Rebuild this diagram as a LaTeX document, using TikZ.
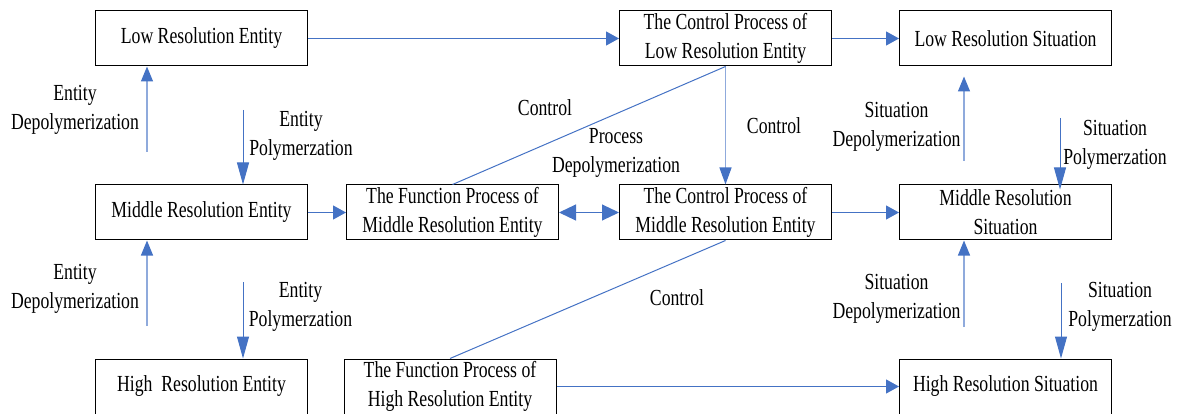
\documentclass[tikz,border=0pt]{standalone}
\usepackage{fontspec}
\setmainfont[FakeStretch=0.77]{Liberation Serif}
\usepackage{tikz}
\usetikzlibrary{arrows.meta,positioning,calc}

\definecolor{arrblue}{HTML}{4472C4}
\definecolor{stemblue}{HTML}{8FAADC}

\tikzset{
  box/.style={draw, line width=1pt, minimum width=212pt, minimum height=55pt, inner sep=0pt, align=center},
  lbl/.style={align=center},
  flow/.style={draw=arrblue, line width=1.1pt, -{Triangle[length=13pt,width=14pt]}},
  both/.style={draw=arrblue, line width=1.1pt, {Triangle[length=17pt,width=16pt]}-{Triangle[length=17pt,width=16pt]}},
  upflow/.style={draw=stemblue, line width=1.3pt, -{Triangle[color=arrblue,length=15pt,width=12pt]}},
  downflow/.style={draw=arrblue, line width=1pt, -{Triangle[color=arrblue,length=22pt,width=12pt]}},
  ctrlflow/.style={draw=stemblue, line width=1.3pt, -{Triangle[color=arrblue,length=17pt,width=12pt]}},
  link/.style={draw=arrblue, line width=1pt}
}

\begin{document}
\begin{tikzpicture}[x=1pt, y=-1pt, on grid, node distance=174pt, font=\fontsize{23}{29}\selectfont]

    \useasboundingbox (0,0) rectangle (1178,414);

    \node[box] (lowEnt) at (201.5,38.5) {Low Resolution Entity};
    \node[box] (midEnt) [below=174pt of lowEnt] {Middle Resolution Entity};
    \node[box] (highEnt) [below=174pt of midEnt] {High~~Resolution Entity};
    \node[box] (funcMid) [right=251pt of midEnt] {The Function Process of\\Middle Resolution Entity};
    \node[box] (ctrlMid) [right=273pt of funcMid] {The Control Process of\\Middle Resolution Entity};
    \node[box] (midSit) [right=280pt of ctrlMid] {Middle Resolution\\Situation};
    \node[box] (ctrlLow) [above=174pt of ctrlMid] {The Control Process of\\Low Resolution Entity};
    \node[box] (lowSit) [above=174pt of midSit] {Low Resolution Situation};
    \node[box] (funcHigh) [below=174pt of funcMid, xshift=-2.5pt] {The Function Process of\\High Resolution Entity};
    \node[box] (highSit) [below=174pt of midSit] {High Resolution Situation};

    % free ends of the vertical arrows
    \coordinate (eDep1) at (147,152);
    \coordinate (ePol1) at (243,110);
    \coordinate (eDep2) at (147,326);
    \coordinate (ePol2) at (243,282);
    \coordinate (sDep1) at (964,161);
    \coordinate (sPol1) at (1060,118);
    \coordinate (sDep2) at (964,327);
    \coordinate (sPol2) at (1061,283);

    \node[lbl] (eDep1lbl) at (75,110) {Entity\\Depolymerization};
    \node[lbl] (ePol1lbl) at (301,135.5) {Entity\\Polymerzation};
    \node[lbl] (eDep2lbl) at (75,289) {Entity\\Depolymerization};
    \node[lbl] (ePol2lbl) at (300.5,307) {Entity\\Polymerzation};
    \node[lbl] (sDep1lbl) at (896.5,126.5) {Situation\\Depolymerization};
    \node[lbl] (sPol1lbl) at (1115,144.5) {Situation\\Polymerzation};
    \node[lbl] (sDep2lbl) at (896.5,299) {Situation\\Depolymerization};
    \node[lbl] (sPol2lbl) at (1120,307) {Situation\\Polymerzation};
    \node[lbl] (ctrlA) at (545,108) {Control};
    \node[lbl] (procDep) at (616,152.5) {Process\\Depolymerization};
    \node[lbl] (ctrlB) at (774,126) {Control};
    \node[lbl] (ctrlC) at (677,298) {Control};

    \path
    (lowEnt) edge[flow] (ctrlLow)
    (ctrlLow) edge[flow] (lowSit)
    (midEnt) edge[flow] (funcMid)
    (funcMid) edge[both] (ctrlMid)
    (ctrlMid) edge[flow] (midSit)
    (funcHigh.east) edge[flow] (funcHigh.east -| highSit.west)

    (ctrlLow) edge[ctrlflow] (ctrlMid)
    (ctrlLow.south) edge[link] (funcMid.north)
    (ctrlMid.south) edge[link] (funcHigh.north)
    ;

    \draw[upflow] (eDep1) -- (eDep1 |- lowEnt.south);
    \draw[downflow] (ePol1) -- (ePol1 |- midEnt.north);
    \draw[upflow] (eDep2) -- (eDep2 |- midEnt.south);
    \draw[downflow] (ePol2) -- (ePol2 |- highEnt.north);
    \draw[upflow, shorten >=10pt] (sDep1) -- (sDep1 |- lowSit.south);
    \draw[downflow, shorten >=-5pt] (sPol1) -- (sPol1 |- midSit.north);
    \draw[upflow] (sDep2) -- (sDep2 |- midSit.south);
    \draw[downflow] (sPol2) -- (sPol2 |- highSit.north);
  \end{tikzpicture}
\end{document}
